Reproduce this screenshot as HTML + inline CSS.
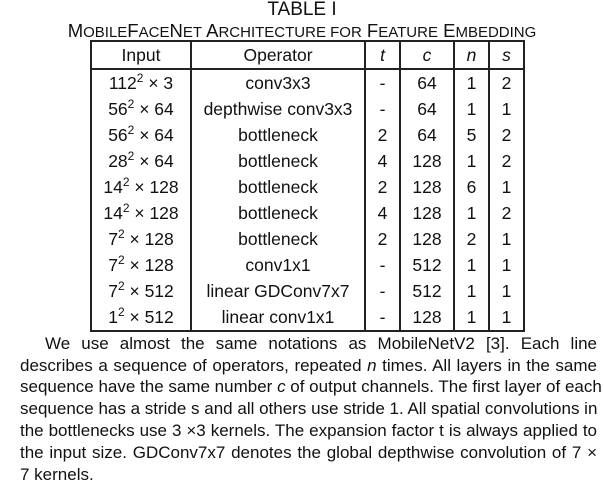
<!DOCTYPE html>
<html><head><meta charset="utf-8"><style>
html,body{margin:0;padding:0;background:#fff;}
body{width:604px;height:489px;position:relative;overflow:hidden;font-family:"Liberation Sans",sans-serif;color:#111;}
.t{position:absolute;left:0;width:604px;text-align:center;white-space:nowrap;}
table{position:absolute;left:90px;top:40px;border-collapse:collapse;font-size:17.5px;border:2px solid #222;}
td{border-left:2px solid #222;border-right:2px solid #222;text-align:center;padding:0;height:26px;line-height:26px;overflow:hidden;}
tr.h td{border-bottom:2px solid #222;height:26px;}
sup{font-size:12px;vertical-align:baseline;position:relative;top:-7px;line-height:0;}
.l{position:absolute;left:20px;width:577px;font-size:17px;text-align:justify;text-align-last:justify;white-space:nowrap;line-height:20px;}
.l.e{text-align-last:left;}
</style></head><body>
<div class="t" style="top:-1px;font-size:19px;line-height:22px;">TABLE I</div>
<div class="t" style="top:20px;font-size:18.5px;line-height:22px;">M<span style="font-size:15px">OBILE</span>F<span style="font-size:15px">ACE</span>N<span style="font-size:15px">ET</span> A<span style="font-size:15px">RCHITECTURE FOR</span> F<span style="font-size:15px">EATURE</span> E<span style="font-size:15px">MBEDDING</span></div>
<table>
<colgroup><col style="width:100px"><col style="width:174px"><col style="width:35px"><col style="width:54px"><col style="width:35px"><col style="width:35px"></colgroup>
<tr class="h"><td>Input</td><td>Operator</td><td><i>t</i></td><td><i>c</i></td><td><i>n</i></td><td><i>s</i></td></tr>
<tr><td>112<sup>2</sup> × 3</td><td>conv3x3</td><td>-</td><td>64</td><td>1</td><td>2</td></tr>
<tr><td>56<sup>2</sup> × 64</td><td>depthwise conv3x3</td><td>-</td><td>64</td><td>1</td><td>1</td></tr>
<tr><td>56<sup>2</sup> × 64</td><td>bottleneck</td><td>2</td><td>64</td><td>5</td><td>2</td></tr>
<tr><td>28<sup>2</sup> × 64</td><td>bottleneck</td><td>4</td><td>128</td><td>1</td><td>2</td></tr>
<tr><td>14<sup>2</sup> × 128</td><td>bottleneck</td><td>2</td><td>128</td><td>6</td><td>1</td></tr>
<tr><td>14<sup>2</sup> × 128</td><td>bottleneck</td><td>4</td><td>128</td><td>1</td><td>2</td></tr>
<tr><td>7<sup>2</sup> × 128</td><td>bottleneck</td><td>2</td><td>128</td><td>2</td><td>1</td></tr>
<tr><td>7<sup>2</sup> × 128</td><td>conv1x1</td><td>-</td><td>512</td><td>1</td><td>1</td></tr>
<tr><td>7<sup>2</sup> × 512</td><td>linear GDConv7x7</td><td>-</td><td>512</td><td>1</td><td>1</td></tr>
<tr><td>1<sup>2</sup> × 512</td><td>linear conv1x1</td><td>-</td><td>128</td><td>1</td><td>1</td></tr>
</table>
<div class="l" style="top:334px;left:45px;width:552px;">We use almost the same notations as MobileNetV2 [3]. Each line</div>
<div class="l" style="top:356px;">describes a sequence of operators, repeated <i>n</i> times. All layers in the same</div>
<div class="l" style="top:377px;">sequence have the same number <i>c</i> of output channels. The first layer of each</div>
<div class="l" style="top:399px;">sequence has a stride s and all others use stride 1. All spatial convolutions in</div>
<div class="l" style="top:421px;">the bottlenecks use 3 ×3 kernels. The expansion factor t is always applied to</div>
<div class="l" style="top:443px;">the input size. GDConv7x7 denotes the global depthwise convolution of 7 ×</div>
<div class="l e" style="top:465px;">7 kernels.</div>
</body></html>
